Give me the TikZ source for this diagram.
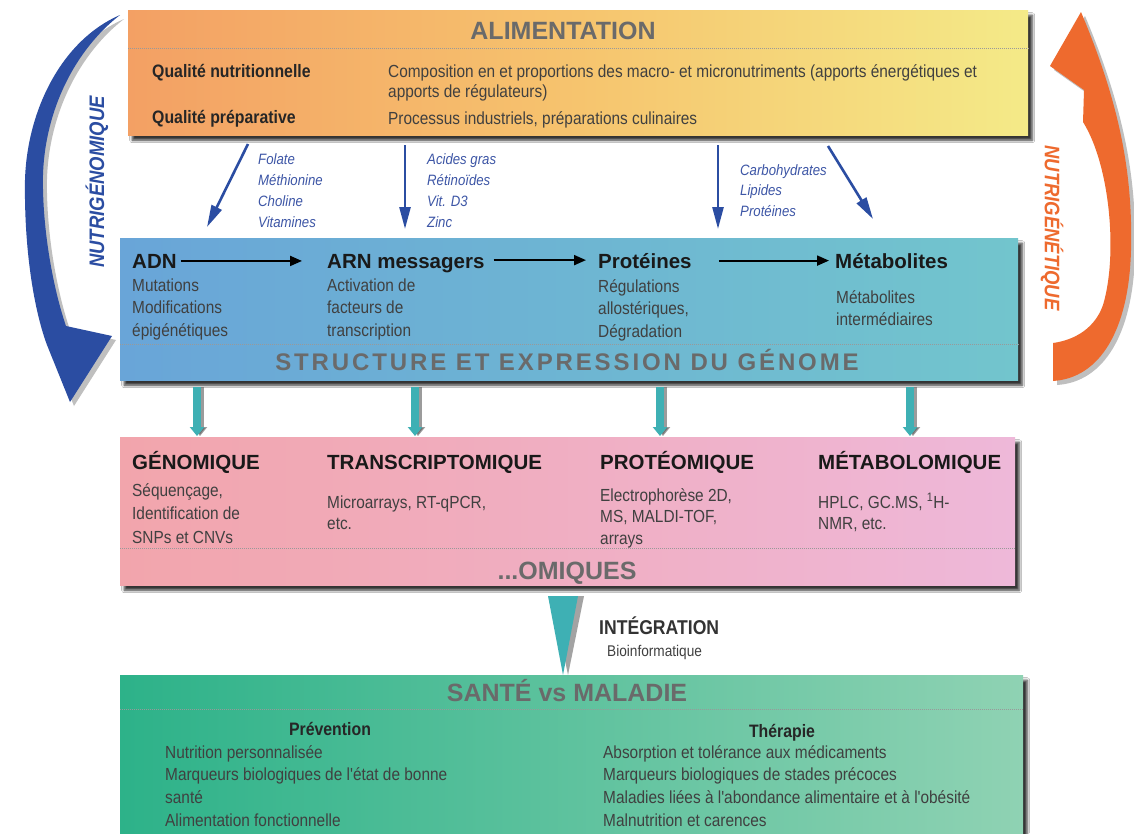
\documentclass[tikz,border=0pt]{standalone}
\usepackage{fontspec}
\setmainfont{Liberation Sans}
\newfontfamily\narrowfont[FakeStretch=0.88]{Liberation Sans}
\newfontfamily\spacedfont[LetterSpace=12]{Liberation Sans}
\usetikzlibrary{shadows,shadows.blur,arrows.meta,positioning}
\definecolor{alimL}{HTML}{F3A064}
\definecolor{alimM}{HTML}{F6C46E}
\definecolor{alimR}{HTML}{F4EA88}
\definecolor{strucL}{HTML}{69A5D8}
\definecolor{strucR}{HTML}{72C5CD}
\definecolor{omicL}{HTML}{F2A5AC}
\definecolor{omicR}{HTML}{EEB8D9}
\definecolor{santeL}{HTML}{2DB289}
\definecolor{santeR}{HTML}{8FD2B3}
\definecolor{navy}{HTML}{2B4DA2}
\definecolor{labelblue}{HTML}{3D56A6}
\definecolor{nutorange}{HTML}{EE6A2E}
\definecolor{tealarrow}{HTML}{3EB0B4}
\definecolor{titlegrey}{HTML}{6A6A6A}
\definecolor{bodygrey}{HTML}{404040}
\begin{document}
\begin{tikzpicture}[x=1pt,y=-1pt,
  box/.style={inner sep=0pt, anchor=north west, blur shadow={shadow xshift=4pt,shadow yshift=-5pt,shadow blur steps=5,shadow blur radius=2.5pt,shadow opacity=80}},
  dotline/.style={densely dotted, line width=1pt, black!40},
  title/.style={inner sep=0pt, anchor=base, font=\bfseries\fontsize{25}{30}\selectfont, text=titlegrey},
  head/.style={inner sep=0pt, anchor=base west, font=\bfseries\fontsize{20.5}{24}\selectfont, text=black!90},
  subhead/.style={inner sep=0pt, anchor=base west, font=\narrowfont\bfseries\fontsize{18}{22}\selectfont, text=black!85},
  body/.style={inner sep=0pt, anchor=base west, align=left, font=\narrowfont\fontsize{17.5}{#1}\selectfont, text=bodygrey},
  body/.default=22.5,
  nutri/.style={inner sep=0pt, anchor=base west, align=left, font=\narrowfont\itshape\fontsize{15}{#1}\selectfont, text=labelblue},
  nutri/.default=21,
  sidelabel/.style={inner sep=0pt, font=\narrowfont\bfseries\itshape\fontsize{21}{24}\selectfont},
  thin/.style={navy, line width=2.6pt, -{Triangle[width=11pt,length=22pt]}},
  flow/.style={black, line width=2pt, -{Triangle[width=10pt,length=12pt]}},
  omic/.style={tealarrow, line width=8pt, -{Triangle[width=14pt,length=9pt]}},
  arcshadow/.style={preaction={fill=black!55, fill opacity=.45, transform canvas={xshift=4pt,yshift=-4pt}}},
]
\useasboundingbox (0,0) rectangle (1134,833);
\fill[white] (0,0) rectangle (1134,833);

% boxes
\node[box, minimum width=900pt, minimum height=125pt, left color=alimL, right color=alimR, middle color=alimM] (alim) at (128,10) {};
\node[box, minimum width=898pt, minimum height=142pt, left color=strucL, right color=strucR] (struc) at (120,238) {};
\node[box, minimum width=895pt, minimum height=148pt, left color=omicL, right color=omicR] (omic) at (120,437) {};
\node[box, minimum width=903pt, minimum height=175pt, left color=santeL, right color=santeR] (sante) at (120,675) {};

% alimentation
\node[title] (alimtitle) at (563,39) {ALIMENTATION};
\draw[dotline] ([yshift=-38pt]alim.north west) -- ([yshift=-38pt]alim.north east);
\node[subhead] (qnut) at (152,77) {Qualité nutritionnelle};
\node[body=20] (compo) at (388,97) {Composition en et proportions des macro- et micronutriments (apports énergétiques et\\apports de régulateurs)};
\node[subhead] (qprep) at (152,123) {Qualité préparative};
\node[body] (proc) at (388,124) {Processus industriels, préparations culinaires};

% nutriments
\node[nutri] (lab1) at (258,227) {Folate\\Méthionine\\Choline\\Vitamines};
\node[nutri] (lab2) at (427,227) {Acides gras\\Rétinoïdes\\Vit. D3\\Zinc};
\node[nutri=20.5] (lab3) at (740,216) {Carbohydrates\\Lipides\\Protéines};
\coordinate (a1s) at (248,144); \coordinate (a1e) at (207,227);
\coordinate (a2s) at (405,145); \coordinate (a2e) at (405,229);
\coordinate (a3s) at (718,145); \coordinate (a3e) at (718,229);
\coordinate (a4s) at (828,146); \coordinate (a4e) at (873,219);
\draw[thin] (a1s) -- (a1e);
\draw[thin] (a2s) -- (a2e);
\draw[thin] (a3s) -- (a3e);
\draw[thin] (a4s) -- (a4e);

% structure et expression
\node[head] (adn) at (132,268) {ADN};
\node[head] (arn) at (327,268) {ARN messagers};
\node[head] (prot) at (598,268) {Protéines};
\node[head] (meta) at (835,268) {Métabolites};
\node[body] (adnsub) at (132,336) {Mutations\\Modifications\\épigénétiques};
\node[body] (arnsub) at (327,336) {Activation de\\facteurs de\\transcription};
\node[body] (protsub) at (598,337) {Régulations\\allostériques,\\Dégradation};
\node[body] (metasub) at (836,325.5) {Métabolites\\intermédiaires};
\draw[flow, shorten <=4pt, shorten >=25pt] (adn.east) -- (adn.east -| arn.west);
\draw[flow, shorten <=9pt, shorten >=12pt] ([yshift=3pt]arn.east) -- ([yshift=3pt]arn.east -| prot.west);
\draw[flow, shorten <=27pt, shorten >=6pt] (prot.east) -- (prot.east -| meta.west);
\draw[dotline] ([yshift=-106pt]struc.north west) -- ([yshift=-106pt]struc.north east);
\node[title, font=\spacedfont\bfseries\fontsize{24}{28}\selectfont] (structitle) at (567,370) {STRUCTURE ET EXPRESSION DU GÉNOME};

% vers les omiques
\foreach \x [count=\i] in {197,415,660,910} {
  \coordinate (ot\i) at (\x,387);
  \coordinate (ob\i) at (\x,436);
  \draw[omic, black!65, opacity=.6] ([xshift=3pt]ot\i) -- ([xshift=3pt]ob\i);
  \draw[omic] (ot\i) -- (ob\i);
}

% omiques
\node[head] (geno) at (132,469) {GÉNOMIQUE};
\node[head] (trans) at (327,469) {TRANSCRIPTOMIQUE};
\node[head] (proteo) at (600,469) {PROTÉOMIQUE};
\node[head] (metabo) at (818,469) {MÉTABOLOMIQUE};
\node[body=23.5] (genosub) at (132,543) {Séquençage,\\Identification de\\SNPs et CNVs};
\node[body=21] (transsub) at (327,529) {Microarrays, RT-qPCR,\\etc.};
\node[body=21.5] (proteosub) at (600,544) {Electrophorèse 2D,\\MS, MALDI-TOF,\\arrays};
\node[body=21] (metabosub) at (818,529) {HPLC, GC.MS, \textsuperscript{1}H-\\NMR, etc.};
\draw[dotline] ([yshift=-111pt]omic.north west) -- ([yshift=-111pt]omic.north east);
\node[title] (omtitle) at (567,579) {...OMIQUES};

% integration
\coordinate (intop) at (563,596);
\fill[black!60, opacity=.6] ([xshift=-11pt]intop) -- ([xshift=21pt]intop) -- ([xshift=5pt]intop |- sante.north) -- cycle;
\fill[tealarrow] ([xshift=-15pt]intop) -- ([xshift=15pt]intop) -- (intop |- sante.north) -- cycle;
\node[subhead, font=\narrowfont\bfseries\fontsize{20}{24}\selectfont, text=black!80] (integ) at (599,634) {INTÉGRATION};
\node[body, font=\narrowfont\fontsize{15.5}{19}\selectfont] (bioinfo) at (607,656) {Bioinformatique};

% sante vs maladie
\node[title] (santetitle) at (567,701) {SANTÉ vs MALADIE};
\draw[dotline] ([yshift=-34pt]sante.north west) -- ([yshift=-34pt]sante.north east);
\node[subhead, anchor=base] (prev) at (330,735) {Prévention};
\node[subhead, anchor=base] (thera) at (782,737) {Thérapie};
\node[body=22.6] (prevlist) at (165,826) {Nutrition personnalisée\\Marqueurs biologiques de l'état de bonne\\santé\\Alimentation fonctionnelle};
\node[body=22.6] (theralist) at (603,826) {Absorption et tolérance aux médicaments\\Marqueurs biologiques de stades précoces\\Maladies liées à l'abondance alimentaire et à l'obésité\\Malnutrition et carences};

% fleches courbes
\fill[navy, arcshadow] (120,15) .. controls (62,40) and (27,110) .. (25,180) .. controls (24,250) and (34,310) .. (47,345) -- (70,402) -- (112,336) -- (66,326) .. controls (52,285) and (42,225) .. (43,175) .. controls (45,110) and (75,50) .. (120,15) -- cycle;
\fill[nutorange, arcshadow] (1053,343) .. controls (1075,340) and (1095,328) .. (1103,305) .. controls (1118,255) and (1110,165) .. (1083,122) -- (1084,90) -- (1050,66) -- (1081,12) .. controls (1118,100) and (1133,170) .. (1131,250) .. controls (1129,330) and (1100,378) .. (1053,381) -- cycle;
\node[sidelabel, rotate=90, text=navy] (nutrigenom) at (97,182) {NUTRIGÉNOMIQUE};
\node[sidelabel, rotate=-90, text=nutorange] (nutrigenet) at (1052,228) {NUTRIGÉNÉTIQUE};
\end{tikzpicture}
\end{document}
